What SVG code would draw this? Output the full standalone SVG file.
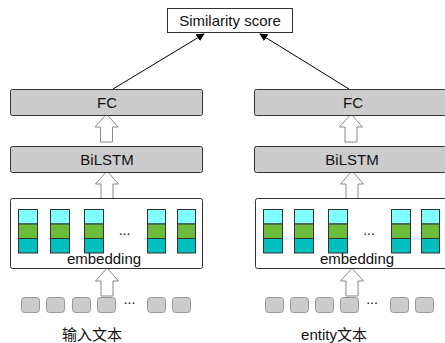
<svg xmlns="http://www.w3.org/2000/svg" width="445" height="343" viewBox="0 0 445 343">
<style>
text{font-family:"Liberation Sans","Noto Sans CJK SC",sans-serif;font-size:15px;fill:#111;text-anchor:middle}
.dots{font-size:14px}
.layer{fill:#cccccc;stroke:#333;stroke-width:1}
.emb{fill:#fff;stroke:#333;stroke-width:1}
.c1{fill:#80ffff;stroke:#333;stroke-width:1}
.c2{fill:#6cbd3c;stroke:#333;stroke-width:1}
.c3{fill:#00bfbf;stroke:#333;stroke-width:1}
.tok{fill:#cccccc;stroke:#999;stroke-width:1}
.hollow{fill:#fff;stroke:#888;stroke-width:1}
.edge{stroke:#000;stroke-width:1;fill:none}
</style>
<defs>
<marker id="ah" viewBox="0 0 10 10" refX="9" refY="5" markerWidth="8" markerHeight="8" orient="auto" markerUnits="userSpaceOnUse">
<path d="M0,0 L10,5 L0,10 z" fill="#000"/>
</marker>
<path id="up" d="M0,0 L11.5,13 L6,13 L6,28 L-6,28 L-6,13 L-11.5,13 Z"/>
</defs>
<g id="similarity">
<rect x="167.5" y="8.5" width="125" height="24" fill="#fff" stroke="#333"/>
<text x="230" y="25.5">Similarity score</text>
</g>
<g id="connectors">
<line class="edge" x1="113" y1="89" x2="204" y2="34" marker-end="url(#ah)"/>
<line class="edge" x1="349" y1="89" x2="260" y2="34" marker-end="url(#ah)"/>
<use href="#up" class="hollow" x="106.5" y="114"/>
<use href="#up" class="hollow" x="107" y="171"/>
<use href="#up" class="hollow" x="107" y="268"/>
<use href="#up" class="hollow" x="351" y="114"/>
<use href="#up" class="hollow" x="352" y="171"/>
<use href="#up" class="hollow" x="352" y="268"/>
</g>
<g id="fc-left">
<rect class="layer" x="10.5" y="89.5" width="192" height="26" rx="2"/>
<text x="107" y="107.5">FC</text>
</g>
<g id="bilstm-left">
<rect class="layer" x="10.5" y="146.5" width="192" height="26" rx="2"/>
<text x="107" y="164.5">BiLSTM</text>
</g>
<g id="embedding-left">
<rect class="emb" x="10.5" y="198.5" width="192" height="70" rx="2"/>
<g>
<rect class="c1" x="18.5" y="209.5" width="19" height="14.5"/><rect class="c2" x="18.5" y="224" width="19" height="14.5"/><rect class="c3" x="18.5" y="238.5" width="19" height="14.5"/>
<rect class="c1" x="50.5" y="209.5" width="19" height="14.5"/><rect class="c2" x="50.5" y="224" width="19" height="14.5"/><rect class="c3" x="50.5" y="238.5" width="19" height="14.5"/>
<rect class="c1" x="84.5" y="209.5" width="19" height="14.5"/><rect class="c2" x="84.5" y="224" width="19" height="14.5"/><rect class="c3" x="84.5" y="238.5" width="19" height="14.5"/>
<rect class="c1" x="147.5" y="209.5" width="18" height="14.5"/><rect class="c2" x="147.5" y="224" width="18" height="14.5"/><rect class="c3" x="147.5" y="238.5" width="18" height="14.5"/>
<rect class="c1" x="177.5" y="209.5" width="18" height="14.5"/><rect class="c2" x="177.5" y="224" width="18" height="14.5"/><rect class="c3" x="177.5" y="238.5" width="18" height="14.5"/>
</g>
<text class="dots" x="124.5" y="235">...</text>
<text x="104" y="264">embedding</text>
</g>
<g id="tokens-left">
<rect class="tok" x="21.5" y="297.5" width="18" height="15" rx="3"/>
<rect class="tok" x="46.5" y="297.5" width="18" height="15" rx="3"/>
<rect class="tok" x="72.5" y="297.5" width="18" height="15" rx="3"/>
<rect class="tok" x="97.5" y="297.5" width="18" height="15" rx="3"/>
<text class="dots" x="129.5" y="304">...</text>
<rect class="tok" x="147.5" y="297.5" width="18" height="15" rx="3"/>
<rect class="tok" x="172.5" y="297.5" width="18" height="15" rx="3"/>
<text x="92" y="340">输入文本</text>
</g>
<g id="fc-right">
<rect class="layer" x="254.5" y="89.5" width="192" height="26" rx="2"/>
<text x="353" y="107.5">FC</text>
</g>
<g id="bilstm-right">
<rect class="layer" x="254.5" y="146.5" width="192" height="26" rx="2"/>
<text x="352" y="164.5">BiLSTM</text>
</g>
<g id="embedding-right">
<rect class="emb" x="255.5" y="198.5" width="192" height="70" rx="2"/>
<g>
<rect class="c1" x="263.5" y="209.5" width="19" height="14.5"/><rect class="c2" x="263.5" y="224" width="19" height="14.5"/><rect class="c3" x="263.5" y="238.5" width="19" height="14.5"/>
<rect class="c1" x="294.5" y="209.5" width="19" height="14.5"/><rect class="c2" x="294.5" y="224" width="19" height="14.5"/><rect class="c3" x="294.5" y="238.5" width="19" height="14.5"/>
<rect class="c1" x="328.5" y="209.5" width="19" height="14.5"/><rect class="c2" x="328.5" y="224" width="19" height="14.5"/><rect class="c3" x="328.5" y="238.5" width="19" height="14.5"/>
<rect class="c1" x="391.5" y="209.5" width="19" height="14.5"/><rect class="c2" x="391.5" y="224" width="19" height="14.5"/><rect class="c3" x="391.5" y="238.5" width="19" height="14.5"/>
<rect class="c1" x="421.5" y="209.5" width="18" height="14.5"/><rect class="c2" x="421.5" y="224" width="18" height="14.5"/><rect class="c3" x="421.5" y="238.5" width="18" height="14.5"/>
</g>
<text class="dots" x="369" y="235">...</text>
<text x="357" y="264">embedding</text>
</g>
<g id="tokens-right">
<rect class="tok" x="265.5" y="297.5" width="18" height="15" rx="3"/>
<rect class="tok" x="290.5" y="297.5" width="18" height="15" rx="3"/>
<rect class="tok" x="315.5" y="297.5" width="18" height="15" rx="3"/>
<rect class="tok" x="340.5" y="297.5" width="18" height="15" rx="3"/>
<text class="dots" x="372" y="304">...</text>
<rect class="tok" x="390.5" y="297.5" width="18" height="15" rx="3"/>
<rect class="tok" x="415.5" y="297.5" width="18" height="15" rx="3"/>
<text x="334" y="340">entity文本</text>
</g>
</svg>
